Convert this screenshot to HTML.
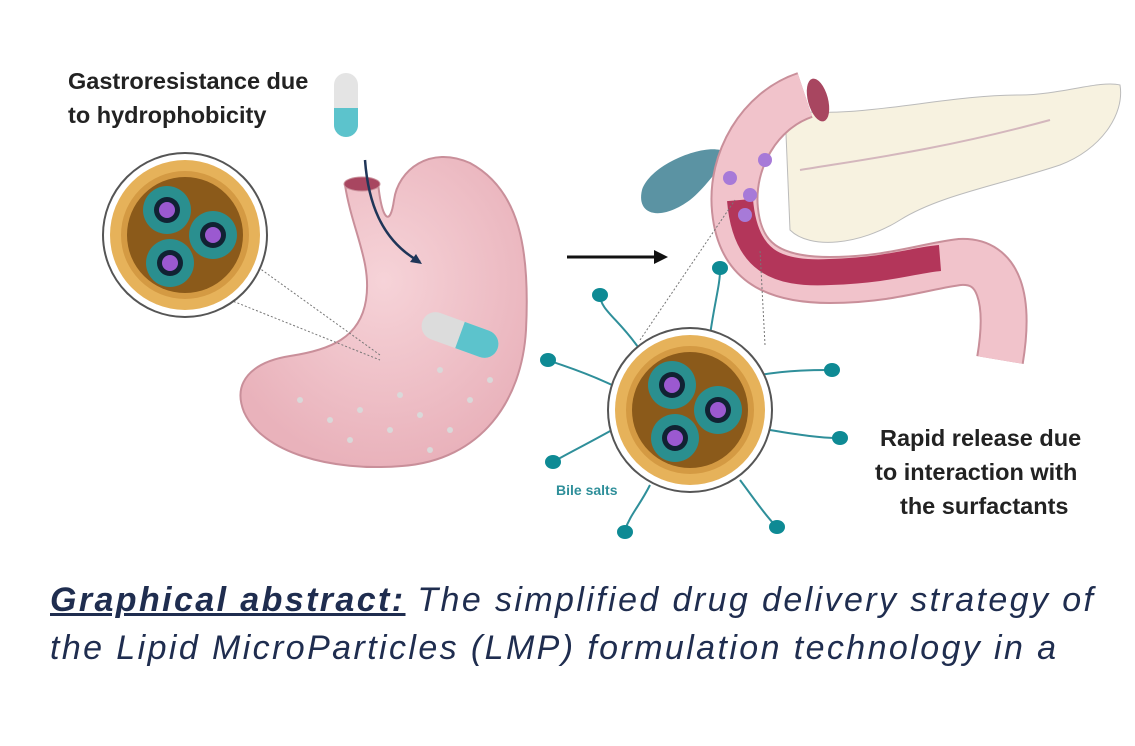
<!DOCTYPE html>
<html><head><meta charset="utf-8"><style>
body{margin:0;width:1135px;height:746px;background:#fff;overflow:hidden;font-family:"Liberation Sans",sans-serif}
svg{position:absolute;left:0;top:0}
.cap{position:absolute;left:50px;font-size:34px;letter-spacing:2.4px;color:#1f2d4f;font-style:italic;white-space:nowrap}
</style></head><body>
<svg width="1135" height="746" viewBox="0 0 1135 746">
<defs>
<radialGradient id="pk" cx="50%" cy="40%" r="60%"><stop offset="0" stop-color="#f6d3d8"/><stop offset="1" stop-color="#e9b2bb"/></radialGradient>
<g id="part">
<circle r="82" fill="#fff" stroke="#555" stroke-width="2"/>
<circle r="75" fill="#e6b25a"/>
<circle r="64" fill="#d49a43"/>
<circle r="58" fill="#8b5a1a"/>
<g><circle cx="-18" cy="-25" r="24" fill="#2a8f8f"/><circle cx="-18" cy="-25" r="13" fill="#123"/><circle cx="-18" cy="-25" r="8" fill="#9b59d0"/>
<circle cx="28" cy="0" r="24" fill="#2a8f8f"/><circle cx="28" cy="0" r="13" fill="#123"/><circle cx="28" cy="0" r="8" fill="#9b59d0"/>
<circle cx="-15" cy="28" r="24" fill="#2a8f8f"/><circle cx="-15" cy="28" r="13" fill="#123"/><circle cx="-15" cy="28" r="8" fill="#9b59d0"/></g>
</g>
</defs>
<path d="M345,185 C352,230 372,262 366,300 C360,338 330,350 290,356 C252,362 232,382 244,412 C262,452 330,472 402,466 C482,460 522,400 526,330 C530,250 520,190 470,163 C430,145 398,170 394,200 C390,228 382,220 378,183 Z" fill="url(#pk)" stroke="#c98f9a" stroke-width="2"/>
<ellipse cx="362" cy="184" rx="18" ry="7" fill="#a84660" stroke="#c98f9a"/>
<g fill="#d9d9d9"><circle cx="300" cy="400" r="3"/><circle cx="330" cy="420" r="3"/><circle cx="360" cy="410" r="3"/><circle cx="390" cy="430" r="3"/><circle cx="420" cy="415" r="3"/><circle cx="450" cy="430" r="3"/><circle cx="470" cy="400" r="3"/><circle cx="400" cy="395" r="3"/><circle cx="350" cy="440" r="3"/><circle cx="430" cy="450" r="3"/><circle cx="490" cy="380" r="3"/><circle cx="440" cy="370" r="3"/></g>
<path d="M365,160 C368,200 380,240 420,262" fill="none" stroke="#1f3558" stroke-width="2.5"/>
<path d="M422,264 l-12,-2 l6,-8 z" fill="#1f3558"/>
<rect x="334" y="73" width="24" height="64" rx="12" fill="#e4e4e4"/><path d="M334,108 h24 v17 a12,12 0 0 1 -24,0z" fill="#5cc3cc"/>
<g transform="translate(460,335) rotate(20)"><rect x="-40" y="-14" width="80" height="28" rx="14" fill="#dcdcdc"/><path d="M0,-14 h26 a14,14 0 0 1 0,28 h-26z" fill="#5cc3cc"/></g>
<line x1="230" y1="300" x2="380" y2="360" stroke="#777" stroke-dasharray="2,2"/>
<line x1="255" y1="265" x2="380" y2="355" stroke="#777" stroke-dasharray="2,2"/>
<use href="#part" x="185" y="235"/>
<line x1="567" y1="257" x2="655" y2="257" stroke="#111" stroke-width="3"/>
<path d="M668,257 l-14,-7 v14z" fill="#111"/>
<path d="M785,110 C860,120 940,95 1020,95 C1060,95 1100,80 1120,85 C1125,115 1100,150 1060,165 C1000,185 940,195 900,220 C860,245 810,250 790,230 Z" fill="#f7f2e0" stroke="#bbb"/>
<path d="M800,170 C860,160 940,150 1050,120" fill="none" stroke="#d4b7bd" stroke-width="2"/>
<path d="M720,150 C700,145 650,165 642,190 C636,215 660,222 690,200 C705,188 715,172 725,162 Z" fill="#5b93a3"/>
<path d="M805,95 C760,110 730,160 735,210 C740,260 770,280 830,280 C890,280 930,265 960,262 C1000,260 1010,300 1000,360" fill="none" stroke="#c98f9a" stroke-width="48"/>
<path d="M805,95 C760,110 730,160 735,210 C740,260 770,280 830,280 C890,280 930,265 960,262 C1000,260 1010,300 1000,360" fill="none" stroke="#f1c3cb" stroke-width="44"/>
<path d="M740,200 C745,260 775,275 830,272 C890,270 915,260 940,258" fill="none" stroke="#b3365a" stroke-width="26"/>
<ellipse cx="818" cy="100" rx="10" ry="22" fill="#a84660" transform="rotate(-15 818 100)"/>
<g fill="#a77ad8"><circle cx="730" cy="178" r="7"/><circle cx="750" cy="195" r="7"/><circle cx="745" cy="215" r="7"/><circle cx="765" cy="160" r="7"/></g>
<line x1="640" y1="340" x2="735" y2="200" stroke="#777" stroke-dasharray="2,2"/>
<line x1="765" y1="345" x2="760" y2="250" stroke="#777" stroke-dasharray="2,2"/>
<g stroke="#2f8f9a" stroke-width="2" fill="none">
<path d="M640,350 C620,320 600,310 600,295"/><path d="M612,385 C580,370 560,365 548,360"/><path d="M612,430 C585,445 565,455 553,462"/><path d="M650,485 C640,505 630,515 625,530"/><path d="M710,335 C715,300 720,285 720,270"/><path d="M760,375 C790,370 815,370 830,370"/><path d="M770,430 C800,435 820,438 838,438"/><path d="M740,480 C755,500 765,515 775,525"/>
</g>
<g fill="#0e8a94"><ellipse cx="600" cy="295" rx="8" ry="7"/><ellipse cx="548" cy="360" rx="8" ry="7"/><ellipse cx="553" cy="462" rx="8" ry="7"/><ellipse cx="625" cy="532" rx="8" ry="7"/><ellipse cx="720" cy="268" rx="8" ry="7"/><ellipse cx="832" cy="370" rx="8" ry="7"/><ellipse cx="840" cy="438" rx="8" ry="7"/><ellipse cx="777" cy="527" rx="8" ry="7"/></g>
<use href="#part" x="690" y="410"/>
<g font-family="Liberation Sans, sans-serif" font-weight="bold" font-size="23.5" fill="#222">
<text x="68" y="89">Gastroresistance due</text><text x="68" y="123">to hydrophobicity</text>
<text x="880" y="446">Rapid release due</text><text x="875" y="480">to interaction with</text><text x="900" y="514">the surfactants</text>
</g>
<text x="556" y="495" font-size="14" font-weight="bold" fill="#2f8f9a">Bile salts</text>
</svg>
<div class="cap" style="top:581px"><b style="text-decoration:underline">Graphical abstract:</b> The simplified drug delivery strategy of</div>
<div class="cap" style="top:629px">the Lipid MicroParticles (LMP) formulation technology in a</div>
</body></html>
